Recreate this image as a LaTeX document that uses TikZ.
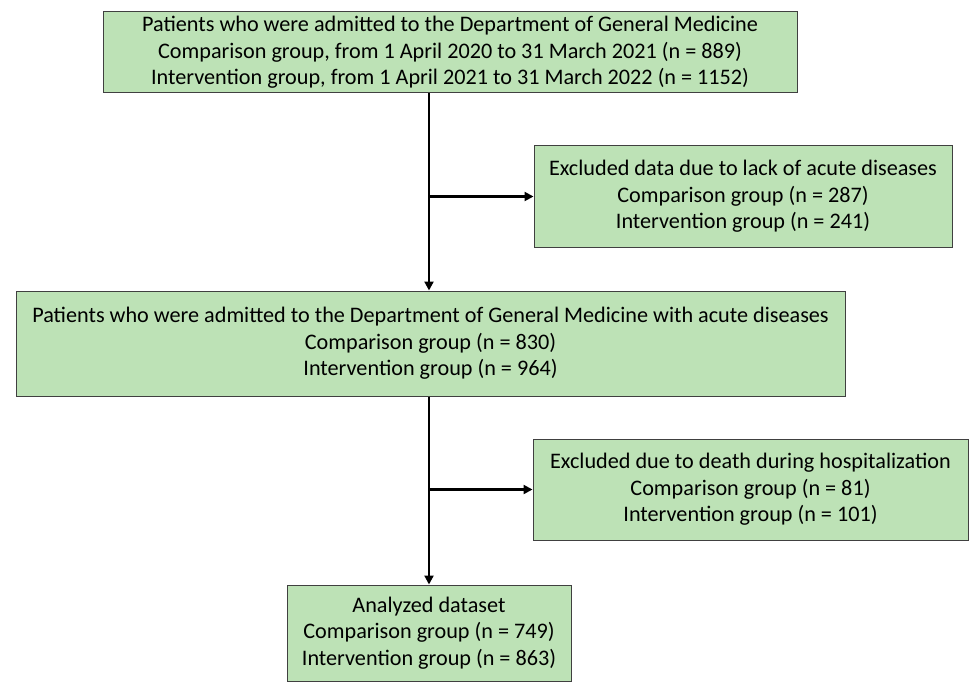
\documentclass[tikz,border=0pt]{standalone}
\usepackage{fontspec}
\setmainfont{Carlito}
\usetikzlibrary{arrows.meta}
\definecolor{boxfill}{HTML}{BDE2B6}
\definecolor{boxline}{HTML}{404040}
\begin{document}
\begin{tikzpicture}[x=1pt,y=-1pt,
  flowbox/.style={draw=boxline,line width=1pt,fill=boxfill,align=center,inner sep=0pt,
    font=\fontsize{22.2}{26.5}\selectfont},
  flowarrow/.style={line width=2.2pt,-{Triangle[length=9pt,width=9pt]}}]
\useasboundingbox (0,0) rectangle (975,682);
\node[flowbox,minimum width=694,minimum height=81] (top) at (450,52.5)
  {Patients who were admitted to the Department of General Medicine\\
   Comparison group, from 1 April 2020 to 31 March 2021 (n = 889)\\
   Intervention group, from 1 April 2021 to 31 March 2022 (n = 1152)};
\node[flowbox,minimum width=418,minimum height=101] (ex1) at (743,196.5)
  {Excluded data due to lack of acute diseases\\
   Comparison group (n = 287)\\
   Intervention group (n = 241)};
\node[flowbox,minimum width=829,minimum height=105] (mid) at (430.5,343.5)
  {Patients who were admitted to the Department of General Medicine with acute diseases\\
   Comparison group (n = 830)\\
   Intervention group (n = 964)};
\node[flowbox,minimum width=435,minimum height=101] (ex2) at (750.5,489.5)
  {Excluded due to death during hospitalization\\
   Comparison group (n = 81)\\
   Intervention group (n = 101)};
\node[flowbox,minimum width=284,minimum height=96] (fin) at (429,633)
  {Analyzed dataset\\
   Comparison group (n = 749)\\
   Intervention group (n = 863)};
\coordinate (j1) at (429,196.5);
\coordinate (j2) at (429,489.5);
\draw[flowarrow] (top.south -| j1) -- (mid.north -| j1);
\draw[flowarrow] (j1) -- (ex1.west);
\draw[flowarrow] (mid.south -| j2) -- (fin.north -| j2);
\draw[flowarrow] (j2) -- (ex2.west);
\end{tikzpicture}
\end{document}
